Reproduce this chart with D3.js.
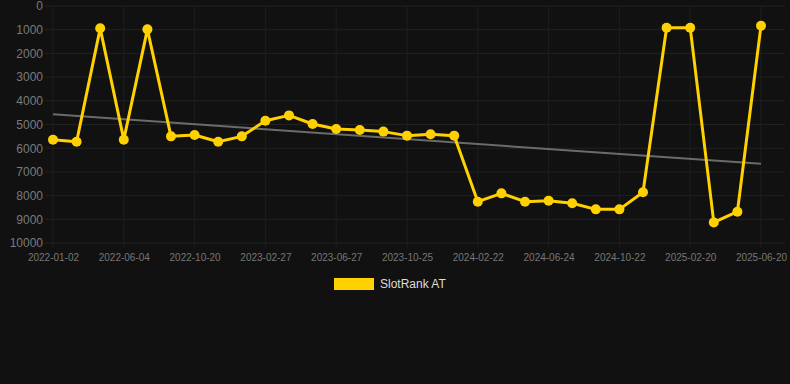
<!DOCTYPE html>
<html>
<head>
<meta charset="utf-8">
<script src="https://cdn.jsdelivr.net/npm/d3@7"></script>
<style>
  html, body { margin: 0; padding: 0; background: #111111; }
  svg { display: block; }
</style>
</head>
<body>
<svg id="chart" width="790" height="384"></svg>
<script>
// Categories (dates); labeled ones, the others estimated
const dates = [
  "2022-01-02","2022-02-22","2022-04-14","2022-06-04","2022-07-20","2022-09-04",
  "2022-10-20","2022-12-02","2023-01-14","2023-02-27","2023-04-08","2023-05-18",
  "2023-06-27","2023-08-06","2023-09-15","2023-10-25","2023-12-04","2024-01-13",
  "2024-02-22","2024-04-03","2024-05-14","2024-06-24","2024-08-03","2024-09-12",
  "2024-10-22","2024-12-01","2025-01-10","2025-02-20","2025-04-01","2025-05-11",
  "2025-06-20"
];
// Series values (rank)
const slotRankAT = [
  5640, 5725, 942, 5640, 985, 5500,
  5445, 5725, 5500, 4840, 4615, 4980,
  5190, 5230, 5300, 5470, 5415, 5470,
  8257, 7905, 8257, 8215, 8325, 8580,
  8580, 7860, 915, 915, 9130, 8680,
  830
];
const seriesName = "SlotRank AT";
const xTickLabels = dates.filter((d, i) => i % 3 === 0);
const yTicks = [0, 1000, 2000, 3000, 4000, 5000, 6000, 7000, 8000, 9000, 10000];

const svg = d3.select("#chart");
const plotLeft = 53, plotRight = 761, plotTop = 6, plotBottom = 243;

const x = d3.scalePoint().domain(dates).range([plotLeft, plotRight]);
const y = d3.scaleLinear().domain([0, 10000]).range([plotTop, plotBottom]);

// Grid
const grid = svg.append("g");
grid.selectAll("line.h").data(yTicks).enter().append("line")
  .attr("x1", 45).attr("x2", 785)
  .attr("y1", d => y(d)).attr("y2", d => y(d))
  .attr("stroke", "#222222").attr("stroke-width", 1);
grid.selectAll("line.v").data(xTickLabels).enter().append("line")
  .attr("x1", d => x(d)).attr("x2", d => x(d))
  .attr("y1", plotTop).attr("y2", plotBottom + 5)
  .attr("stroke", "#1e1e1e").attr("stroke-width", 1);

// Y axis
const yAxis = d3.axisLeft(y).tickValues(yTicks).tickFormat(d3.format("d")).tickSize(0).tickPadding(0);
const gy = svg.append("g").attr("transform", "translate(43,0)").call(yAxis);
gy.select(".domain").remove();
gy.selectAll("text")
  .attr("fill", "#7a7a7a")
  .attr("font-family", "Liberation Sans, Arial, Helvetica, sans-serif")
  .attr("font-size", "12px");

// X axis
const xAxis = d3.axisBottom(x).tickValues(xTickLabels).tickSize(0).tickPadding(0);
const gx = svg.append("g").attr("transform", "translate(0,254)").call(xAxis);
gx.select(".domain").remove();
gx.selectAll("text")
  .attr("fill", "#777777")
  .attr("dy", "0.71em")
  .attr("font-family", "Liberation Sans, Arial, Helvetica, sans-serif")
  .attr("font-size", "10px");

// Trend line (least squares)
const n = slotRankAT.length;
const mi = d3.mean(d3.range(n));
const mv = d3.mean(slotRankAT);
let sxy = 0, sxx = 0;
slotRankAT.forEach((v, i) => { sxy += (i - mi) * (v - mv); sxx += (i - mi) * (i - mi); });
const slope = sxy / sxx;
const trend = [0, n - 1].map(i => ({ d: dates[i], v: mv + slope * (i - mi) }));
svg.append("path")
  .datum(trend)
  .attr("fill", "none")
  .attr("stroke", "#6b6b6b")
  .attr("stroke-width", 2)
  .attr("d", d3.line().x(p => x(p.d)).y(p => y(p.v)));

// Series line
const data = dates.map((d, i) => ({ d, v: slotRankAT[i] }));
svg.append("path")
  .datum(data)
  .attr("fill", "none")
  .attr("stroke", "#FFD100")
  .attr("stroke-width", 3)
  .attr("stroke-linejoin", "round")
  .attr("d", d3.line().x(p => x(p.d)).y(p => y(p.v)));

svg.append("g").selectAll("circle").data(data).enter().append("circle")
  .attr("cx", p => x(p.d)).attr("cy", p => y(p.v)).attr("r", 5)
  .attr("fill", "#FFD100");

// Legend
const lg = svg.append("g");
lg.append("rect").attr("x", 334).attr("y", 278).attr("width", 40).attr("height", 12)
  .attr("fill", "#FFD100");
lg.append("text").attr("x", 380).attr("y", 284).attr("dy", "0.35em")
  .attr("fill", "#dddddd")
  .attr("font-family", "Liberation Sans, Arial, Helvetica, sans-serif")
  .attr("font-size", "12px")
  .text(seriesName);
</script>
</body>
</html>
